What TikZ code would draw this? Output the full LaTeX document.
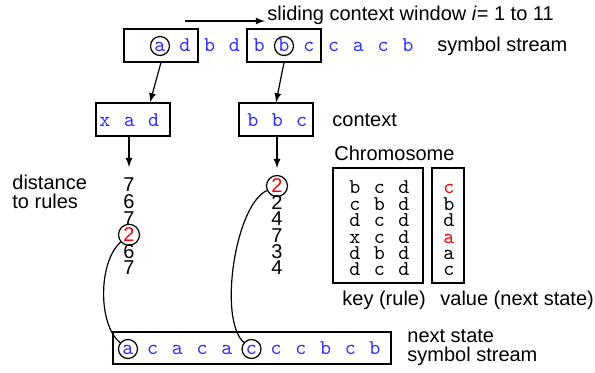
\documentclass[tikz,border=0pt]{standalone}
\usepackage{fontspec}
\setmainfont{Liberation Sans}
\usepackage{xcolor}
\usetikzlibrary{arrows, positioning}
\definecolor{streamblue}{RGB}{45,45,255}

\begin{document}
\begin{tikzpicture}[
    x=0.5pt, y=-0.5pt,
    font=\fontsize{10}{9.5}\selectfont,
    label_text/.style={anchor=west, inner sep=1pt, align=left},
    sym/.style={circle, inner sep=0pt, minimum size=9.5pt, line width=0.6pt, text height=6pt, text depth=0pt, font=\ttfamily\fontsize{10.5}{10}\selectfont, text=streamblue},
    ring/.style={draw},
    digit/.style={circle, inner sep=0pt, minimum size=10.5pt, line width=0.6pt},
    hit/.style={draw, text=red},
    window/.style={draw, line width=0.6pt, minimum width=37pt, minimum height=16.5pt, inner sep=0pt},
    gene/.style={font=\ttfamily\fontsize{10.5}{10}\selectfont, inner sep=0pt, text height=6pt, text depth=0pt},
    flow/.style={-latex, line width=0.6pt},
    link/.style={line width=0.6pt}
]
\useasboundingbox (0,0) rectangle (595,373);

% INPUT STREAM
\foreach \s/\o [count=\i] in {a/ring,d/,b/,d/,b/,b/ring,c/,c/,a/,c/,b/}
    \node[sym,\o] (t\i) at ({160+24.8*(\i-1)},46) {\s};
\node[window] (w1) at (161,45.5) {};
\node[window] (w2) at (284,45.5) {};
\node[label_text] (stream) at (435,46) {symbol stream};

% SLIDING WINDOW
\coordinate (slidestart) at (185,21);
\node[label_text, anchor=base west] (slide) at (265,21) {sliding context window \textit{i}= 1 to 11};
\draw[flow] (slidestart) -- (slide.base west);

% CONTEXTS
\node[window] (ctx1) at (133,119.5) {};
\node[window] (ctx2) at (276,119.5) {};
\foreach \s [count=\i] in {x,a,d}
    \node[sym] (xa\i) at ({105+24.3*(\i-1)},121) {\s};
\foreach \s [count=\i] in {b,b,c}
    \node[sym] (xb\i) at ({253+24.3*(\i-1)},121) {\s};
\node[label_text] (ctxlabel) at (330,120) {context};
\draw[flow] (w1.south) -- ([xshift=8.5pt]ctx1.north);
\draw[flow] (w2.south) -- (ctx2.north);

% DISTANCES
\node[label_text] (dist) at (10,192) {distance\\to rules};
\foreach \v/\o [count=\i] in {7/,6/,7/,2/hit,6/,7/}
    \node[digit,\o] (d\i) at (129,{185+16.6*(\i-1)}) {\v};
\foreach \v/\o [count=\i] in {2/hit,2/,4/,7/,3/,4/}
    \node[digit,\o] (e\i) at (277,{186+16.4*(\i-1)}) {\v};
\draw[flow, shorten >=3.4pt] (ctx1.south -| d1) -- (d1);
\draw[flow, shorten >=3.4pt] (ctx2.south -| e1) -- (e1);

% CHROMOSOME
\node[label_text] (chromo) at (332,153) {Chromosome};
\node[window, minimum width=45pt, minimum height=57.5pt] (keybox) at (378,225.5) {};
\node[window, minimum width=16pt, minimum height=57.5pt] (valbox) at (448,225.5) {};
\foreach \r [count=\i] in {{b,c,d},{c,b,d},{d,c,d},{x,c,d},{d,b,d},{d,c,d}}
    \foreach \g [count=\j] in \r
        \node[gene] (k\i\j) at ({355+24.5*(\j-1)},{188+16.4*(\i-1)}) {\g};
\foreach \v/\c [count=\i] in {c/red, b/black, d/black, a/red, a/black, c/black}
    \node[gene, text=\c] (v\i) at (449,{188+16.4*(\i-1)}) {\v};
\node[label_text] (keylabel) at (340,300) {key (rule)};
\node[label_text] (vallabel) at (438,300) {value (next state)};

% NEXT STATE STREAM
\node[window, minimum width=139pt, minimum height=16pt] (next) at (252,348) {};
\foreach \s/\o [count=\i] in {a/ring,c/,a/,c/,a/,c/ring,c/,c/,b/,c/,b/}
    \node[sym,\o] (n\i) at ({128+24.7*(\i-1)},349) {\s};
\node[label_text] (nextlabel) at (405,348) {next state\\symbol stream};

% SELECTED RULES
\draw[link] (d4) .. controls (98,262) and (98,325) .. (n1);
\draw[link] (e1) .. controls (235,205) and (218,320) .. (n6);
\end{tikzpicture}
\end{document}
